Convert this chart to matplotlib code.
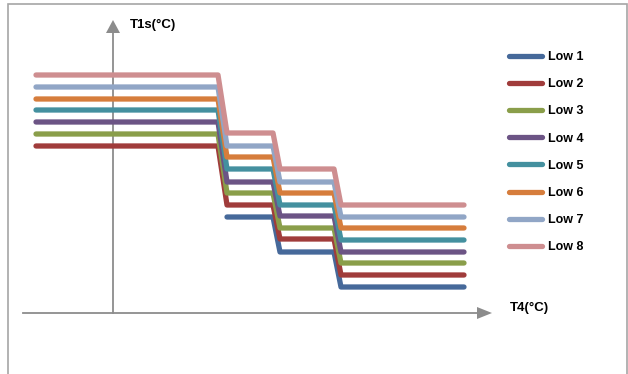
import numpy as np
import matplotlib.pyplot as plt
from matplotlib.lines import Line2D

# step breakpoints along T4 (arbitrary units)
t4 = [-7.7, 10.5, 11.4, 16.0, 16.7, 22.1, 22.8, 35.1]

# T1s level of each series on the four plateaus (arbitrary units)
low1 = [np.nan, 9.6, 6.1, 2.6]
low2 = [16.7, 10.8, 7.4, 3.8]
low3 = [17.9, 12.0, 8.5, 5.0]
low4 = [19.1, 13.1, 9.7, 6.1]
low5 = [20.3, 14.4, 10.8, 7.3]
low6 = [21.4, 15.6, 12.0, 8.5]
low7 = [22.6, 16.7, 13.1, 9.6]
low8 = [23.8, 18.0, 14.4, 10.8]

labels = ["Low 1", "Low 2", "Low 3", "Low 4", "Low 5", "Low 6", "Low 7", "Low 8"]
colors = ["#46699a", "#a03c3b", "#8a9e4a", "#6c5485", "#44909f",
          "#d67d3c", "#91a6c6", "#ce8e90"]
series = [low1, low2, low3, low4, low5, low6, low7, low8]

plt.rcParams['font.family'] = ['Liberation Sans', 'DejaVu Sans']

fig = plt.figure(figsize=(6.28, 3.74), dpi=100)
ax = fig.add_axes([0, 0, 1, 1])
ax.set_xlim(-11.3, 51.5)
ax.set_ylim(-6.1, 31.3)
ax.axis('off')

# outer frame
fig.patches.append(plt.Rectangle((8 / 628, -0.01), 619 / 628, 1 - 4 / 374 + 0.01,
                                 transform=fig.transFigure, fill=False,
                                 edgecolor='#a6a6a6', linewidth=1.2))

# axes arrows
axis_col = '#8c8c8c'
ax.plot([-9.0, 36.4], [0, 0], color=axis_col, lw=1.3)
ax.plot([0, 0], [0, 28.0], color=axis_col, lw=1.3)
ax.fill([36.4, 37.9, 36.4], [0.6, 0, -0.6], color=axis_col, lw=0)
ax.fill([-0.7, 0, 0.7], [28.0, 29.3, 28.0], color=axis_col, lw=0)
ax.text(1.7, 28.8, "T1s(°C)", fontsize=9.5, fontweight='bold', va='center', ha='left')
ax.text(39.7, 0.5, "T4(°C)", fontsize=9.5, fontweight='bold', va='center', ha='left')

handles = []
for vals, lab, col in zip(series, labels, colors):
    xs, ys = [], []
    for i, v in enumerate(vals):
        xs += [t4[2 * i], t4[2 * i + 1]]
        ys += [v, v]
    ax.plot(xs, ys, color=col, lw=3.8, solid_capstyle='round',
            solid_joinstyle='round')
    handles.append(Line2D([], [], color=col, lw=3.8, solid_capstyle='round'))

leg = ax.legend(handles, labels, loc='upper left', bbox_to_anchor=(498 / 628, 1 - 40 / 374),
                frameon=False, handlelength=2.6, handletextpad=0.5,
                labelspacing=1.21, prop={'size': 9, 'weight': 'bold'})

fig.savefig("out.png", dpi=100)
